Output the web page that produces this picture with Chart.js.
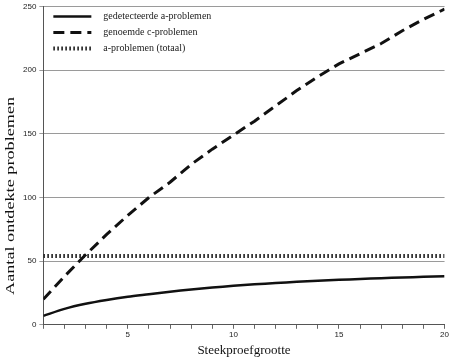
<!DOCTYPE html>
<html>
<head>
<meta charset="utf-8">
<script src="https://cdn.jsdelivr.net/npm/chart.js@4.4.0/dist/chart.umd.min.js"></script>
<style>
  html, body { margin: 0; padding: 0; background: #fff; }
  #wrap { width: 450px; height: 361px; position: relative; }
</style>
</head>
<body>
<div id="wrap"><canvas id="chart"></canvas></div>
<script>
const sampleSizes = [1, 2, 3, 4, 5, 6, 7, 8, 9, 10, 11, 12, 13, 14, 15, 16, 17, 18, 19, 20];
const detectedA = [7, 12.5, 16.5, 19.5, 22, 24, 26, 27.8, 29.3, 30.6, 31.8, 32.8, 33.8, 34.6, 35.3, 36, 36.6, 37.2, 37.7, 38.2];
const namedC = [20, 38, 55, 71, 86, 100, 112, 126, 138, 149, 160, 172, 184, 195, 205, 213, 221, 231, 240, 248];
const totalA = [54, 54, 54, 54, 54, 54, 54, 54, 54, 54, 54, 54, 54, 54, 54, 54, 54, 54, 54, 54];
const seriesLabels = ['gedetecteerde a-problemen', 'genoemde c-problemen', 'a-problemen (totaal)'];
const yTicks = [0, 50, 100, 150, 200, 250];
const yTitle = 'Aantal ontdekte problemen';

const serif = "'Liberation Serif', 'Times New Roman', serif";
const sans = "'Liberation Sans', Arial, sans-serif";

const toXY = (vals) => vals.map((v, i) => ({ x: sampleSizes[i], y: v }));

// legend drawn inside the plot, top-left, like the scanned figure
const innerLegend = {
  id: 'innerLegend',
  afterDatasetsDraw(chart) {
    const { ctx, chartArea } = chart;
    ctx.save();
    chart.data.datasets.forEach((ds, i) => {
      const y = chartArea.top + 10 + i * 16;
      const x0 = chartArea.left + 10;
      ctx.strokeStyle = ds.borderColor;
      ctx.lineWidth = ds.borderWidth;
      ctx.setLineDash(ds.borderDash || []);
      ctx.beginPath();
      ctx.moveTo(x0, y);
      ctx.lineTo(x0 + 38, y);
      ctx.stroke();
      ctx.setLineDash([]);
      ctx.fillStyle = '#222';
      ctx.font = '10px ' + serif;
      ctx.textBaseline = 'middle';
      ctx.fillText(ds.label, x0 + 50, y);
    });
    ctx.restore();
  }
};

// the scanned y title is stretched and sits below the middle of the axis
const stretchedYTitle = {
  id: 'stretchedYTitle',
  afterDraw(chart) {
    const { ctx, chartArea } = chart;
    ctx.save();
    ctx.translate(11, chartArea.top + (chartArea.bottom - chartArea.top) * 0.595);
    ctx.rotate(-Math.PI / 2);
    ctx.scale(1.4, 1);
    ctx.font = '13px ' + serif;
    ctx.fillStyle = '#111';
    ctx.textAlign = 'center';
    ctx.textBaseline = 'middle';
    ctx.fillText(yTitle, 0, 0);
    ctx.restore();
  }
};

new Chart(document.getElementById('chart'), {
  type: 'line',
  data: {
    datasets: [
      { label: seriesLabels[0], data: toXY(detectedA), borderColor: '#111', borderWidth: 2.5, pointRadius: 0, tension: 0.3 },
      { label: seriesLabels[1], data: toXY(namedC), borderColor: '#111', borderWidth: 3, borderDash: [11, 6], pointRadius: 0, tension: 0 },
      { label: seriesLabels[2], data: toXY(totalA), borderColor: '#111', borderWidth: 4, borderDash: [1.5, 2.5], pointRadius: 0 }
    ]
  },
  options: {
    responsive: true,
    maintainAspectRatio: false,
    animation: false,
    layout: { padding: { top: 0, right: 4, left: 20, bottom: 3 } },
    plugins: { legend: { display: false }, tooltip: { enabled: false } },
    scales: {
      x: {
        type: 'linear',
        min: 1,
        max: 20,
        ticks: {
          stepSize: 1,
          autoSkip: false,
          maxRotation: 0,
          color: '#222',
          font: { family: sans, size: 8 },
          padding: 1,
          callback: (v) => (v % 5 === 0 ? String(v) : '')
        },
        grid: { drawOnChartArea: false, drawTicks: true, tickLength: 4, color: '#666' },
        border: { display: true, color: '#555', width: 1 },
        title: { display: true, text: 'Steekproefgrootte', color: '#111', font: { family: serif, size: 13 }, padding: { top: 2, bottom: 0 } }
      },
      y: {
        min: 0,
        max: 250,
        afterBuildTicks: (axis) => { axis.ticks = yTicks.map(v => ({ value: v })); },
        ticks: { color: '#222', font: { family: sans, size: 8, lineHeight: 0.9 }, padding: 3 },
        grid: { color: '#9a9a9a', lineWidth: 1, tickLength: 4 },
        border: { display: true, color: '#555', width: 1 },
        title: { display: false }
      }
    }
  },
  plugins: [innerLegend, stretchedYTitle]
});
</script>
</body>
</html>
